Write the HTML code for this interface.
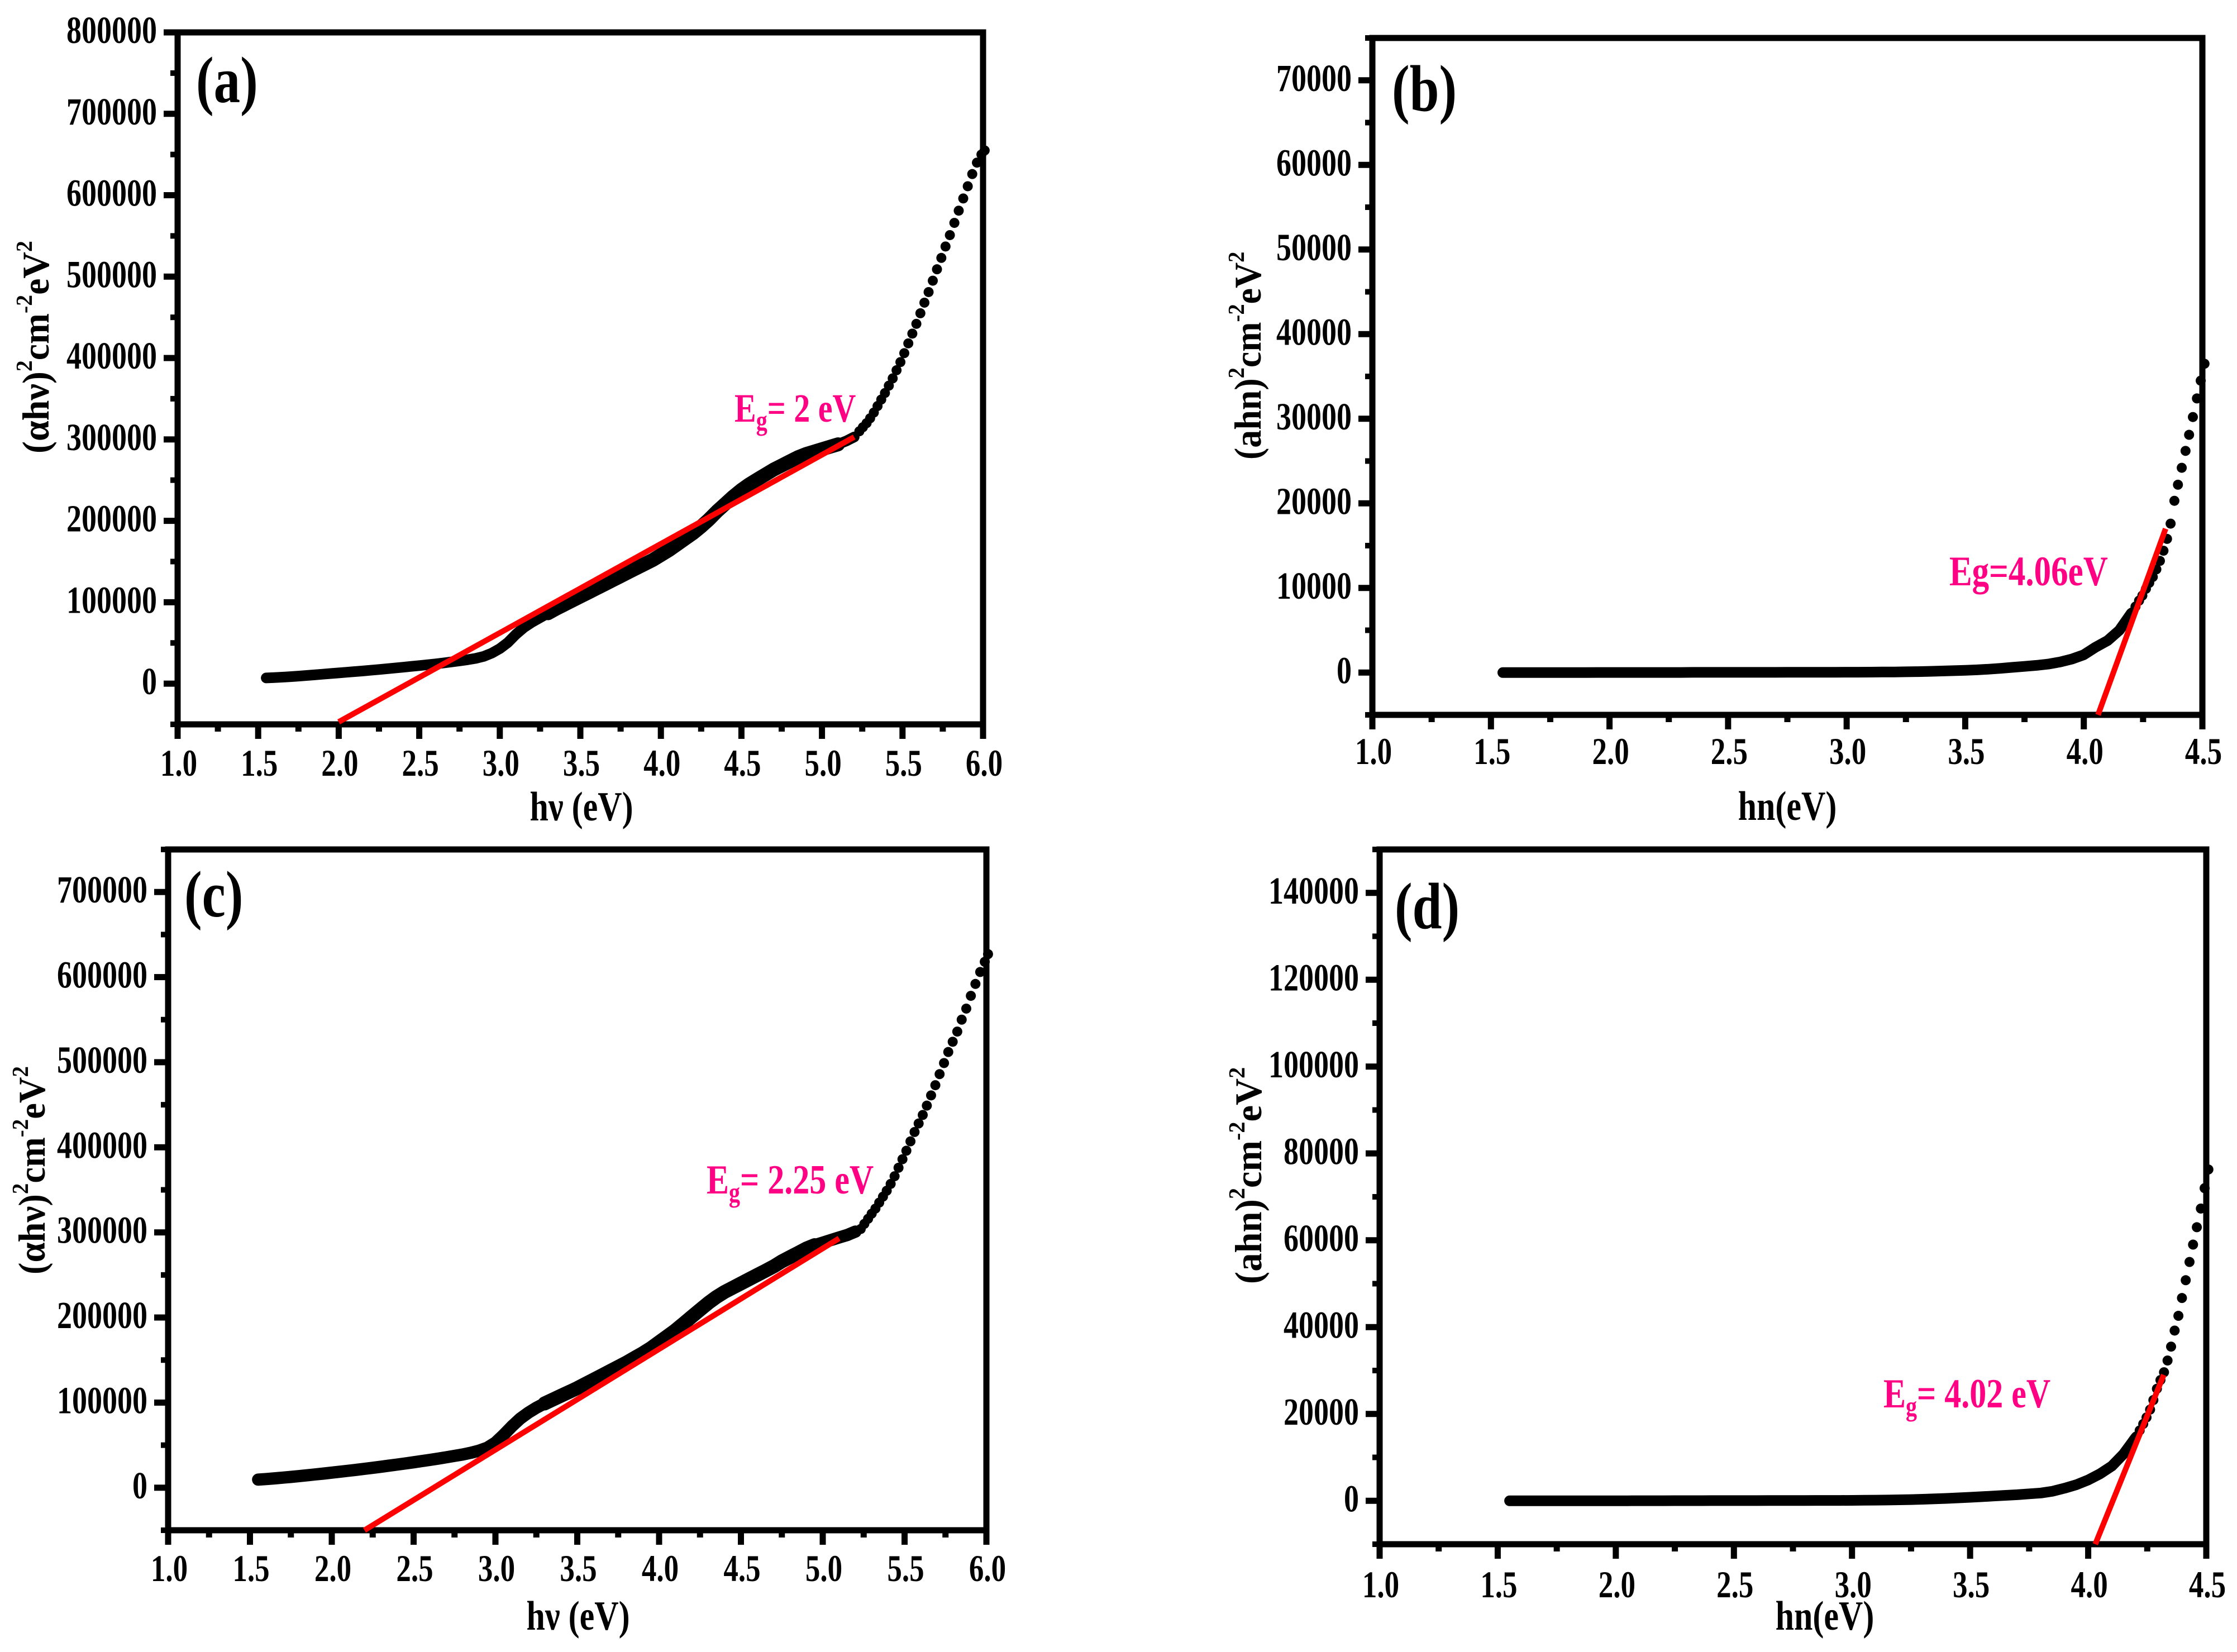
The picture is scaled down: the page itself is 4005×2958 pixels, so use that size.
<!DOCTYPE html>
<html lang="en">
<head>
<meta charset="utf-8">
<title>Tauc plots</title>
<style>
html,body{margin:0;padding:0;background:#fff;width:4005px;height:2958px;overflow:hidden}
svg{display:block}
text{font-family:"Liberation Serif",serif;font-weight:bold;fill:#000}
.eg{fill:#ff0084}
</style>
</head>
<body>
<svg id="figure" xmlns="http://www.w3.org/2000/svg" width="4005" height="2958" viewBox="0 0 4005 2958">
<rect width="4005" height="2958" fill="#fff"/>

<!-- static titles -->
<text font-size="95" transform="translate(351,183) scale(1,1.24)">(a)</text>
<text font-size="95" transform="translate(2492,198) scale(1,1.24)">(b)</text>
<text font-size="95" transform="translate(330,1641) scale(1,1.24)">(c)</text>
<text font-size="95" transform="translate(2497,1662) scale(1,1.24)">(d)</text>

<text font-size="60" text-anchor="middle" transform="translate(1041,1469) scale(1,1.24)">hν (eV)</text>
<text font-size="60" text-anchor="middle" transform="translate(3200,1468) scale(1,1.24)">hn(eV)</text>
<text font-size="60" text-anchor="middle" transform="translate(1035,2918) scale(1,1.24)">hν (eV)</text>
<text font-size="60" text-anchor="middle" transform="translate(3267,2918) scale(1,1.24)">hn(eV)</text>

<text font-size="68" transform="translate(87,812) rotate(-90) scale(.97,1)">(αhν)<tspan font-size="41" dy="-30">2</tspan><tspan dy="30">cm</tspan><tspan font-size="41" dy="-30">-2</tspan><tspan dy="30">eV</tspan><tspan font-size="41" dy="-30">2</tspan></text>
<text font-size="68" transform="translate(2257,823) rotate(-90) scale(.94,1)">(ahn)<tspan font-size="41" dy="-30">2</tspan><tspan dy="30">cm</tspan><tspan font-size="41" dy="-30">-2</tspan><tspan dy="30">eV</tspan><tspan font-size="41" dy="-30">2</tspan></text>
<text font-size="68" transform="translate(80,2282) rotate(-90) scale(.95,1)">(αhν)<tspan font-size="41" dy="-30">2</tspan><tspan dy="30">cm</tspan><tspan font-size="41" dy="-30">-2</tspan><tspan dy="30">eV</tspan><tspan font-size="41" dy="-30">2</tspan></text>
<text font-size="68" transform="translate(2258,2299) rotate(-90) scale(.98,1)">(ahn)<tspan font-size="41" dy="-30">2</tspan><tspan dy="30">cm</tspan><tspan font-size="41" dy="-30">-2</tspan><tspan dy="30">eV</tspan><tspan font-size="41" dy="-30">2</tspan></text>

<g id="panels"></g>

<text class="eg" font-size="58" transform="translate(1315,755) scale(1,1.24)">E<tspan font-size="40" dy="12">g</tspan><tspan dy="-12">= 2 eV</tspan></text>
<text class="eg" font-size="61" transform="translate(3490,1048) scale(1,1.24)">Eg=4.06eV</text>
<text class="eg" font-size="60" transform="translate(1265,2137) scale(1,1.24)">E<tspan font-size="40" dy="12">g</tspan><tspan dy="-12">= 2.25 eV</tspan></text>
<text class="eg" font-size="60" transform="translate(3372,2520) scale(1,1.24)">E<tspan font-size="40" dy="12">g</tspan><tspan dy="-12">= 4.02 eV</tspan></text>
</svg>

<script>
// ---------- shared tick arrays ----------
const wideXTicks = [1.0,1.5,2.0,2.5,3.0,3.5,4.0,4.5,5.0,5.5,6.0];
const wideXMinor = [1.25,1.75,2.25,2.75,3.25,3.75,4.25,4.75,5.25,5.75];
const narrowXTicks = [1.0,1.5,2.0,2.5,3.0,3.5,4.0,4.5];
const narrowXMinor = [1.25,1.75,2.25,2.75,3.25,3.75,4.25];

const aYTicks = [0,100000,200000,300000,400000,500000,600000,700000,800000];
const aYMinor = [-50000,50000,150000,250000,350000,450000,550000,650000,750000];
const bYTicks = [0,10000,20000,30000,40000,50000,60000,70000];
const bYMinor = [-5000,5000,15000,25000,35000,45000,55000,65000,75000];
const cYTicks = [0,100000,200000,300000,400000,500000,600000,700000];
const cYMinor = [-50000,50000,150000,250000,350000,450000,550000,650000,750000];
const dYTicks = [0,20000,40000,60000,80000,100000,120000,140000];
const dYMinor = [-10000,10000,30000,50000,70000,90000,110000,130000,150000];

// ---------- photon energy (eV) ----------
const wideDenseEnergy = [1.55,1.6,1.65,1.7,1.75,1.8,1.85,1.9,1.95,2.0,2.05,2.1,2.15,2.2,2.25,2.3,2.35,2.4,2.45,2.5,2.55,2.6,2.65,2.7,2.75,2.8,2.85,2.9,2.95,3.0,3.05,3.1,3.15,3.2,3.25,3.3,3.35,3.4,3.45,3.5,3.55,3.6,3.65,3.7,3.75,3.8,3.85,3.9,3.95,4.0,4.05,4.1,4.15,4.2,4.25,4.3,4.35,4.4,4.45,4.5,4.55,4.6,4.65,4.7,4.75,4.8,4.85,4.9,4.95,5.0,5.05,5.1,5.15,5.2];
const wideSparseEnergy = [5.232,5.254,5.277,5.299,5.322,5.345,5.368,5.391,5.415,5.439,5.463,5.487,5.511,5.536,5.561,5.586,5.611,5.636,5.662,5.688,5.714,5.741,5.767,5.794,5.822,5.849,5.877,5.905,5.933,5.962,5.99,6.01];
const narrowDenseEnergy = [1.55,1.6,1.65,1.7,1.75,1.8,1.85,1.9,1.95,2.0,2.05,2.1,2.15,2.2,2.25,2.3,2.35,2.4,2.45,2.5,2.55,2.6,2.65,2.7,2.75,2.8,2.85,2.9,2.95,3.0,3.05,3.1,3.15,3.2,3.25,3.3,3.35,3.4,3.45,3.5,3.55,3.6,3.65,3.7,3.75,3.8,3.85,3.9,3.95,4.0,4.05,4.1,4.15,4.2];
const narrowSparseEnergy = [4.203,4.218,4.233,4.247,4.262,4.276,4.291,4.306,4.321,4.336,4.351,4.366,4.382,4.397,4.413,4.429,4.444,4.46,4.477,4.493,4.509];

// ---------- panel (a) ----------
const aDenseValues = [7000,7500,8000,8600,9300,10000,10800,11600,12400,13200,14000,14800,15600,16500,17400,18300,19200,20200,21200,22200,23200,24200,25400,26700,28000,29400,31000,33500,37500,43000,50500,60500,69000,75500,81000,86500,92000,97000,102000,107000,112000,117000,122000,127000,132000,137000,142000,147000,152000,158000,164000,171000,178000,185000,193000,202000,212000,221000,230000,238000,245000,251000,257000,263000,268000,273000,278000,282000,285000,288000,291000,294000,298000,303000];
const aSparseValues = [310000,315000,320000,326000,333000,341000,349000,357000,366000,375000,385000,395000,406000,418000,430000,442000,455000,468000,481000,495000,509000,523000,537000,551000,566000,581000,596000,611000,626000,640000,650000,655000];
const aFitEnergy = [2.0,5.2];
const aFitValues = [-47000,303000];

// ---------- panel (b) ----------
const bDenseValues = [0,0,0,0,0,0,0,0,10,10,10,10,10,10,10,10,20,20,20,20,20,20,20,20,30,30,30,30,30,40,45,50,60,70,90,110,140,180,220,260,320,400,500,620,730,850,1000,1250,1600,2100,3000,3770,5000,7000];
const bSparseValues = [7100,7800,8500,9100,9900,10600,11300,12200,13200,14400,15800,17600,20300,22200,24200,26200,28100,30200,32400,34500,36500];
const bFitEnergy = [4.06,4.345];
const bFitValues = [-5000,17000];

// ---------- panel (c) ----------
const cDenseValues = [9500,10200,11000,11800,12700,13600,14600,15600,16600,17700,18800,19900,21000,22200,23400,24600,25900,27200,28500,29900,31300,32700,34200,35800,37400,39000,41000,43500,47000,53000,62000,72000,81000,88000,94000,99000,103500,108000,112500,117000,122000,127000,132000,137000,142000,147000,152500,158000,164000,171000,178000,185000,193000,201000,209000,217000,224000,230000,235000,240000,245000,250000,255000,260000,266000,271000,276000,281000,285000,288000,291000,294000,297000,301000];
const cSparseValues = [304000,310000,316000,322000,328000,335000,342000,349000,357000,366000,376000,386000,396000,407000,418000,428000,438000,449000,461000,473000,486000,499000,512000,524000,536000,550000,563000,578000,592000,606000,618000,627000];
const cFitEnergy = [2.2,5.1];
const cFitValues = [-50000,293000];

// ---------- panel (d) ----------
const dDenseValues = [0,0,0,0,0,0,0,0,10,10,10,20,20,20,30,30,30,40,40,40,50,50,60,60,70,70,80,90,90,100,120,150,180,220,280,350,450,550,680,800,950,1100,1250,1400,1600,1800,2200,2900,3700,4800,6200,8000,10800,14500];
const dSparseValues = [14800,16200,17700,19200,21000,23200,25800,27800,29600,32300,35500,39200,42600,46700,50800,55000,59000,63000,67300,72000,76300];
const dFitEnergy = [4.03,4.32];
const dFitValues = [-10000,29000];

const SVGNS = 'http://www.w3.org/2000/svg';
const root = document.getElementById('panels');

function make(tag, parent, attrs) {
  const el = document.createElementNS(SVGNS, tag);
  for (const k in attrs) el.setAttribute(k, attrs[k]);
  parent.appendChild(el);
  return el;
}

function drawPanel(p) {
  const g = make('g', root, {});
  
  

  const X = v => p.left + (v - p.xMin) / (p.xMax - p.xMin) * (p.right - p.left);
  const Y = v => p.bottom - (v - p.yMin) / (p.yMax - p.yMin) * (p.bottom - p.top);

  // y ticks
  p.yTicks.forEach(v => {
    const t = make('rect', g, {x: p.left - 25, y: Y(v) - 5.5, width: 25, height: 11, fill: '#000'});
    
    
    const l = make('text', g, {'font-size': 54, 'text-anchor': 'end', transform: 'translate(' + (p.left - 37) + ',' + (Y(v) + 19) + ') scale(1,1.27)'});
    l.textContent = String(v);
    
    
  });
  p.yMinor.forEach(v => {
    const t = make('rect', g, {x: p.left - 13, y: Y(v) - 5, width: 13, height: 10, fill: '#000'});
    
    
  });
  // x ticks
  p.xTicks.forEach(v => {
    const t = make('rect', g, {x: X(v) - 5.5, y: p.bottom, width: 11, height: 26, fill: '#000'});
    
    
    const l = make('text', g, {'font-size': 53, 'text-anchor': 'middle', transform: 'translate(' + (X(v) + 2) + ',' + (p.bottom + p.labelGap) + ') scale(1,1.27)'});
    l.textContent = v.toFixed(1);
    
    
  });
  p.xMinor.forEach(v => {
    const t = make('rect', g, {x: X(v) - 5.5, y: p.bottom, width: 11, height: 13, fill: '#000'});
    
    
  });

  // frame
  const frame = make('rect', g, {x: p.left, y: p.top, width: p.right - p.left, height: p.bottom - p.top, fill: 'none', stroke: '#000', 'stroke-width': 11});
  
  

  // dense section of the series: merged band
  const pathFor = keep => p.denseX
    .map((v, i) => [v, p.denseY[i]])
    .filter(pt => keep(pt[0]))
    .map((pt, i) => (i ? 'L' : 'M') + X(pt[0]).toFixed(1) + ' ' + Y(pt[1]).toFixed(1))
    .join('');
  const band = make('path', g, {d: pathFor(() => true), fill: 'none', stroke: '#000', 'stroke-width': p.bandWidth, 'stroke-linecap': 'round', 'stroke-linejoin': 'round'});
  
  
  if (p.thickFrom) {
    const thick = make('path', g, {d: pathFor(v => v >= p.thickFrom && v <= p.thickTo), fill: 'none', stroke: '#000', 'stroke-width': 25, 'stroke-linecap': 'round', 'stroke-linejoin': 'round'});
    
    
  }

  // every point
  p.sparseX.forEach((v, i) => {
    const c = make('circle', g, {cx: X(v), cy: Y(p.sparseY[i]), r: 9, fill: '#000'});
    
    
  });

  // linear fit
  const fit = make('line', g, {x1: X(p.fitX[0]), y1: Y(p.fitY[0]), x2: X(p.fitX[1]), y2: Y(p.fitY[1]), stroke: '#ff0000', 'stroke-width': 10});
  
  
}

drawPanel({id:'a', left:318, right:1760, top:58, bottom:1297, labelGap:92, bandWidth:19, thickFrom:3.3, thickTo:5.1, xMin:1, xMax:6, yMin:-50000, yMax:800000,
  xTicks:wideXTicks, xMinor:wideXMinor, yTicks:aYTicks, yMinor:aYMinor,
  denseX:wideDenseEnergy, denseY:aDenseValues, sparseX:wideSparseEnergy, sparseY:aSparseValues, fitX:aFitEnergy, fitY:aFitValues});
drawPanel({id:'b', left:2457, right:3943, top:68, bottom:1280, labelGap:88, bandWidth:19, xMin:1, xMax:4.5, yMin:-5000, yMax:75000,
  xTicks:narrowXTicks, xMinor:narrowXMinor, yTicks:bYTicks, yMinor:bYMinor,
  denseX:narrowDenseEnergy, denseY:bDenseValues, sparseX:narrowSparseEnergy, sparseY:bSparseValues, fitX:bFitEnergy, fitY:bFitValues});
drawPanel({id:'c', left:301, right:1766, top:1521, bottom:2740, labelGap:91, bandWidth:22, thickFrom:3.3, thickTo:4.95, xMin:1, xMax:6, yMin:-50000, yMax:750000,
  xTicks:wideXTicks, xMinor:wideXMinor, yTicks:cYTicks, yMinor:cYMinor,
  denseX:wideDenseEnergy, denseY:cDenseValues, sparseX:wideSparseEnergy, sparseY:cSparseValues, fitX:cFitEnergy, fitY:cFitValues});
drawPanel({id:'d', left:2470, right:3950, top:1521, bottom:2765, labelGap:95, bandWidth:19, xMin:1, xMax:4.5, yMin:-10000, yMax:150000,
  xTicks:narrowXTicks, xMinor:narrowXMinor, yTicks:dYTicks, yMinor:dYMinor,
  denseX:narrowDenseEnergy, denseY:dDenseValues, sparseX:narrowSparseEnergy, sparseY:dSparseValues, fitX:dFitEnergy, fitY:dFitValues});
</script>
</body>
</html>
